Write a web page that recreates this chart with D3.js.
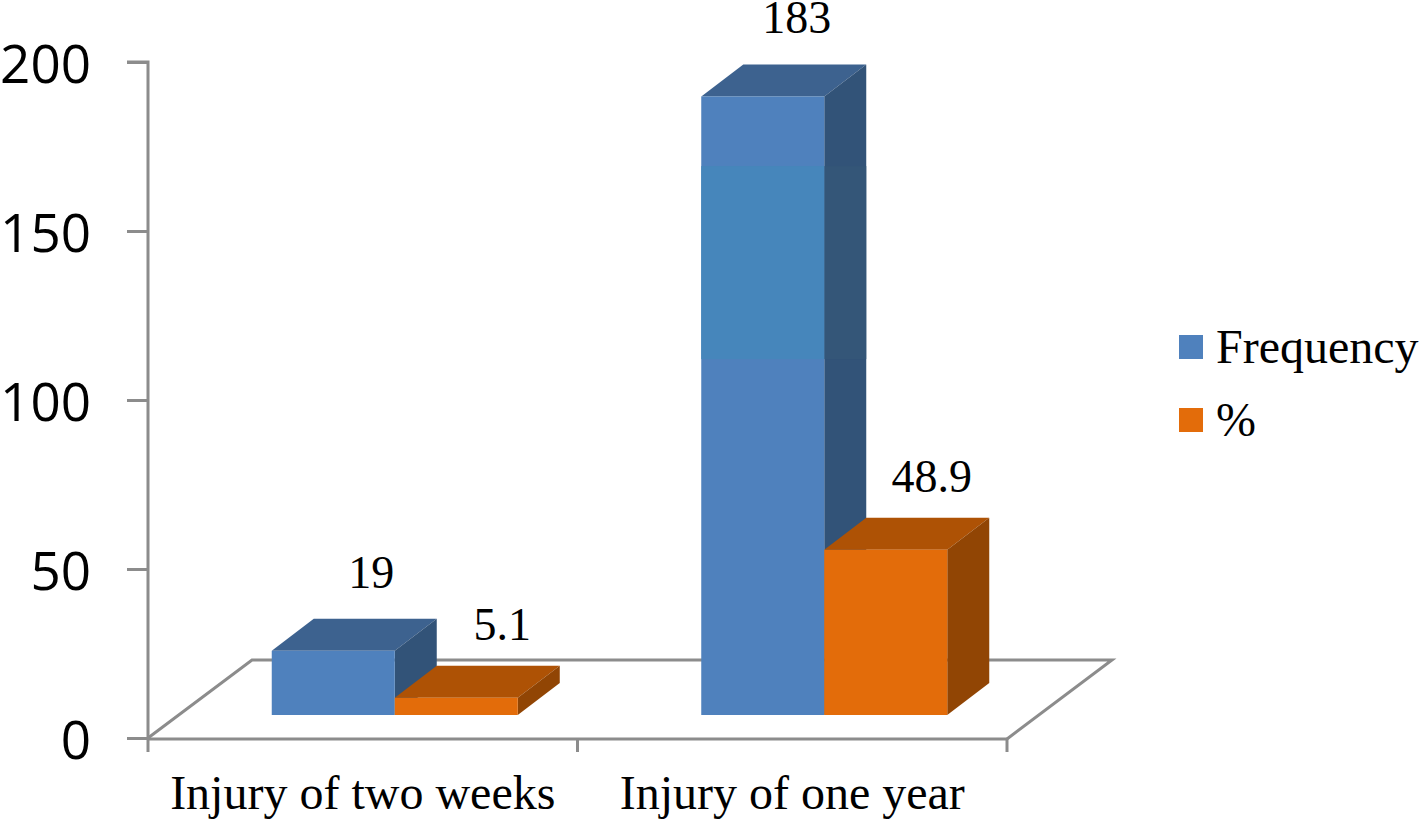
<!DOCTYPE html>
<html>
<head>
<meta charset="utf-8">
<script src="https://cdn.jsdelivr.net/npm/d3@7"></script>
<style>
  html, body { margin: 0; padding: 0; background: #fff; overflow: hidden; }
  text { font-family: "Liberation Serif", serif; fill: #000; }
</style>
</head>
<body>
<div id="chart"></div>
<script>
// Data
const categories = ["Injury of two weeks", "Injury of one year"];
const seriesNames = ["Frequency", "%"];
const frequency = [19, 183];
const percent = [5.1, 48.9];
const percentLabels = ["5.1", "48.9"];
const yTicks = [0, 50, 100, 150, 200];

// Label nudges, the source labels are not quite centred
const frequencyLabelDx = [38, 34];
const percentLabelDx = [46, 46];

const width = 1422;
const height = 820;

const colors = {
    "Frequency": { front: "#4f81bd", top: "#3d628f", side: "#325378" },
    "%": { front: "#e36c0a", top: "#ae5205", side: "#914504" }
};

const svg = d3.select("#chart").append("svg")
    .attr("width", width)
    .attr("height", height);

// Scales
const yScale = d3.scaleLinear().domain([0, 200]).range([738, 62]);
const xScale = d3.scaleBand().domain(categories).range([148, 1007]);
const seriesScale = d3.scaleBand().domain(seriesNames).range([0, 246]);

// 3D offsets
const floorDepth = { x: 104, y: -78 };
const barDepth = { x: 42, y: -32 };
const barShift = { x: 32, y: -23 };
const axisColor = "#8c8c8c";
const axisWidth = 3;

// Floor
const floorLine = d3.line();
svg.append("path")
    .attr("d", floorLine([
        [148, yScale(0)],
        [148 + floorDepth.x, yScale(0) + floorDepth.y],
        [1007 + floorDepth.x + 1, yScale(0) + floorDepth.y],
        [1007, yScale(0) + 1]
    ]))
    .attr("fill", "none")
    .attr("stroke", axisColor)
    .attr("stroke-width", axisWidth);

// Axes
const yAxis = svg.append("g")
    .attr("transform", "translate(148, 0)")
    .call(d3.axisLeft(yScale).tickValues(yTicks).tickSize(21).tickPadding(36));
yAxis.selectAll("path, line").attr("stroke", axisColor).attr("stroke-width", axisWidth);
yAxis.select(".domain").attr("d", `M-21,${yScale(200)}H0V${yScale(0)}`);
yAxis.selectAll("text")
    .style("font-family", "'Open Sans'")
    .style("font-size", "53px")
    .attr("dy", "0.38em");

const xAxis = svg.append("g")
    .attr("transform", `translate(0, ${yScale(0) + 1})`)
    .call(d3.axisBottom(xScale).tickSize(0).tickPadding(0));
xAxis.select(".domain").attr("stroke", axisColor).attr("stroke-width", axisWidth)
    .attr("d", `M148,0H1007`);
xAxis.selectAll("text")
    .attr("y", 70)
    .attr("dy", 0)
    .style("font-family", "'Liberation Serif'")
    .style("font-size", "48px");

// Category ticks on the band edges
svg.selectAll(".cat-tick")
    .data(categories.concat("end"))
    .enter()
    .append("line")
    .attr("class", "cat-tick")
    .attr("x1", (d, i) => i < categories.length ? xScale(d) : xScale.range()[1])
    .attr("x2", (d, i) => i < categories.length ? xScale(d) : xScale.range()[1])
    .attr("y1", yScale(0))
    .attr("y2", yScale(0) + 14)
    .attr("stroke", axisColor)
    .attr("stroke-width", axisWidth);

// Bars
function drawBar(g, x, w, value, c) {
    const x0 = x;
    const x1 = x + w;
    const yBase = yScale(0) + barShift.y;
    const yTop = yScale(value) + barShift.y;
    const dx = barDepth.x;
    const dy = barDepth.y;
    g.append("path").attr("fill", c.top)
        .attr("d", floorLine([[x0, yTop], [x0 + dx, yTop + dy], [x1 + dx, yTop + dy], [x1, yTop]]) + "Z");
    g.append("path").attr("fill", c.side)
        .attr("d", floorLine([[x1, yTop], [x1 + dx, yTop + dy], [x1 + dx, yBase + dy], [x1, yBase]]) + "Z");
    g.append("rect").attr("fill", c.front)
        .attr("x", x0).attr("y", yTop)
        .attr("width", w).attr("height", yBase - yTop);
}

const barWidth = seriesScale.bandwidth();
categories.forEach((cat, i) => {
    const left = xScale(cat) + xScale.bandwidth() / 2 - barWidth + barShift.x;
    const g = svg.append("g");
    drawBar(g, left + seriesScale("Frequency"), barWidth, frequency[i], colors["Frequency"]);

    // Lighter band on the tall bar, as in the source image
    if (i === 1) {
        const bandValues = [105.3, 162.4];
        g.append("rect")
            .attr("x", left + barWidth)
            .attr("y", yScale(bandValues[1]) + barShift.y)
            .attr("width", barDepth.x)
            .attr("height", yScale(bandValues[0]) - yScale(bandValues[1]))
            .attr("fill", "#345678");
        g.append("rect")
            .attr("x", left)
            .attr("y", yScale(bandValues[1]) + barShift.y)
            .attr("width", barWidth)
            .attr("height", yScale(bandValues[0]) - yScale(bandValues[1]))
            .attr("fill", "#4686bb");
    }

    drawBar(g, left + seriesScale("%"), barWidth, percent[i], colors["%"]);

    // value labels
    svg.append("text")
        .attr("x", left + seriesScale("Frequency") + barWidth / 2 + frequencyLabelDx[i])
        .attr("y", yScale(frequency[i]) + barShift.y - 63)
        .attr("text-anchor", "middle")
        .style("font-size", "46px")
        .text(frequency[i]);
    svg.append("text")
        .attr("x", left + seriesScale("%") + barWidth / 2 + percentLabelDx[i])
        .attr("y", yScale(percent[i]) + barShift.y - 58)
        .attr("text-anchor", "middle")
        .style("font-size", "46px")
        .text(percentLabels[i]);
});

// Legend
const legend = svg.append("g");
seriesNames.forEach((name, i) => {
    legend.append("rect")
        .attr("x", 1179)
        .attr("y", 335 + i * 73)
        .attr("width", 24)
        .attr("height", 24)
        .attr("fill", colors[name].front);
    legend.append("text")
        .attr("x", 1216)
        .attr("y", 363 + i * 73)
        .style("font-size", "48px")
        .text(name);
});
</script>
</body>
</html>
